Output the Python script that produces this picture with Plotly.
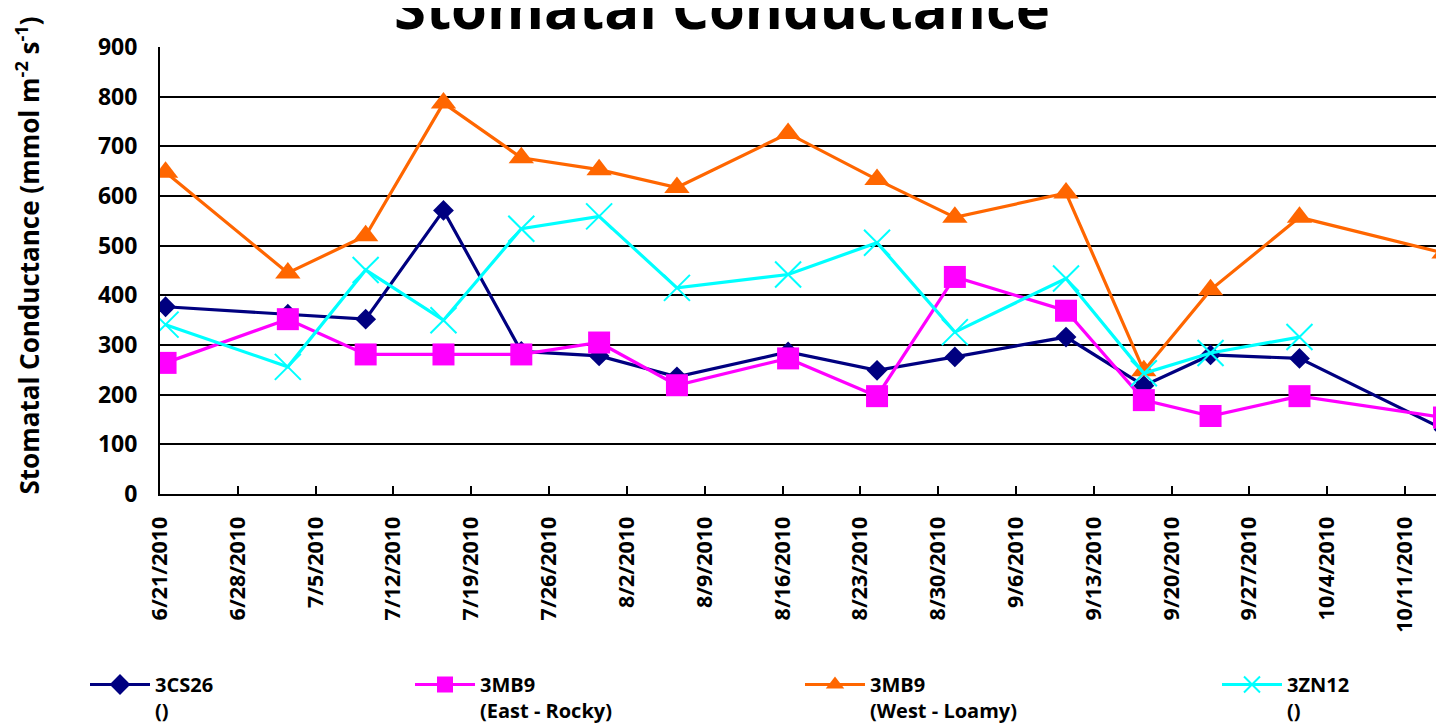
import pandas as pd
import plotly.graph_objects as go

# ---- data ----
dates = ["2010-06-21", "2010-07-02", "2010-07-09", "2010-07-16", "2010-07-23",
         "2010-07-30", "2010-08-06", "2010-08-16", "2010-08-24", "2010-08-31",
         "2010-09-10", "2010-09-17", "2010-09-23", "2010-10-01", "2010-10-14"]
cs26 = [377, 362, 352, 571, 287, 278, 236, 286, 249, 276, 316, 218, 280, 273, 130]
mb9_east = [264, 352, 281, 281, 281, 305, 219, 273, 197, 437, 369, 189, 157, 197, 154]
mb9_west = [648, 445, 520, 787, 677, 653, 617, 726, 633, 557, 606, 248, 411, 557, 485]
zn12 = [341, 256, 451, 350, 534, 559, 415, 442, 506, 326, 434, 243, 284, 316, None]

series_names = ["3CS26<br>()", "3MB9<br>(East - Rocky)", "3MB9<br>(West - Loamy)", "3ZN12<br>()"]
y_ticks = [0, 100, 200, 300, 400, 500, 600, 700, 800, 900]

# Excel date axis: points sit in the middle of their day
x = pd.to_datetime(dates) + pd.Timedelta(hours=12)

FONT = "Open Sans"
W, H = 1436, 720  # page body has an 8px margin
fig = go.Figure()

styles = [
    dict(color="#000080", symbol="diamond", size=16, lw=0, legend="legend"),
    dict(color="#FF00FF", symbol="square", size=22, lw=0, legend="legend2"),
    dict(color="#FF6600", symbol="triangle-up", size=22, lw=0, legend="legend3"),
    dict(color="#00FFFF", symbol="x-thin", size=26, lw=2, legend="legend4"),
]
for name, vals, st in zip(series_names, [cs26, mb9_east, mb9_west, zn12], styles):
    marker = dict(symbol=st["symbol"], size=st["size"], color=st["color"])
    if st["lw"]:
        marker["line"] = dict(color=st["color"], width=st["lw"])
    fig.add_trace(go.Scatter(
        x=x, y=vals, name=name, mode="lines+markers",
        line=dict(color=st["color"], width=3.2),
        marker=marker, legend=st["legend"], connectgaps=False,
    ))

leg_common = dict(
    orientation="v", xref="container", yref="container", xanchor="left",
    yanchor="top", bgcolor="rgba(0,0,0,0)", borderwidth=0, valign="top",
    itemwidth=60, font=dict(family=FONT, size=20, color="black", weight="bold"),
    tracegroupgap=0,
)
leg_x = [77, 402, 792, 1209]
ly = 1 - 657 / H
fig.update_layout(
    width=W, height=H,
    paper_bgcolor="white", plot_bgcolor="white",
    margin=dict(l=152, r=0, t=39, b=234, pad=0, autoexpand=False),
    showlegend=True,
    legend=dict(leg_common, x=leg_x[0] / W, y=ly),
    legend2=dict(leg_common, x=leg_x[1] / W, y=ly),
    legend3=dict(leg_common, x=leg_x[2] / W, y=ly),
    legend4=dict(leg_common, x=leg_x[3] / W, y=ly),
    xaxis=dict(
        type="date", range=["2010-06-21 00:00", "2010-10-14 12:00"],
        tick0="2010-06-21", dtick=7 * 24 * 3600 * 1000, tickformat="%-m/%-d/%Y",
        tickangle=-90, ticks="inside", ticklen=8, tickwidth=1.5, tickcolor="black",
        showline=True, linecolor="black", linewidth=2, showgrid=False, zeroline=False,
        tickfont=dict(family=FONT, size=21.5, color="black", weight="bold"),
        ticklabelstandoff=12,
    ),
    yaxis=dict(
        range=[0, 900], tickvals=y_ticks, ticks="", showline=True, linecolor="black",
        linewidth=2, showgrid=True, gridcolor="black", gridwidth=1.5, zeroline=False,
        tickfont=dict(family=FONT, size=23, color="black", weight="bold"),
        ticklabelstandoff=16,
    ),
    annotations=[
        dict(text="Stomatal Conductance", xref="paper", yref="paper",
             x=(714 - 152) / 1284, y=1, yshift=41, xanchor="center", yanchor="middle",
             showarrow=False,
             font=dict(family=FONT, size=58, color="black", weight="bold")),
        dict(text="Stomatal Conductance (mmol m<sup>-2</sup> s<sup>-1</sup>)",
             xref="paper", yref="paper", x=0, y=0.5, xshift=-132, yshift=15,
             xanchor="center", yanchor="middle", textangle=-90, showarrow=False,
             font=dict(family=FONT, size=26, color="black", weight="bold")),
    ],
)

fig.write_html("out.html")
